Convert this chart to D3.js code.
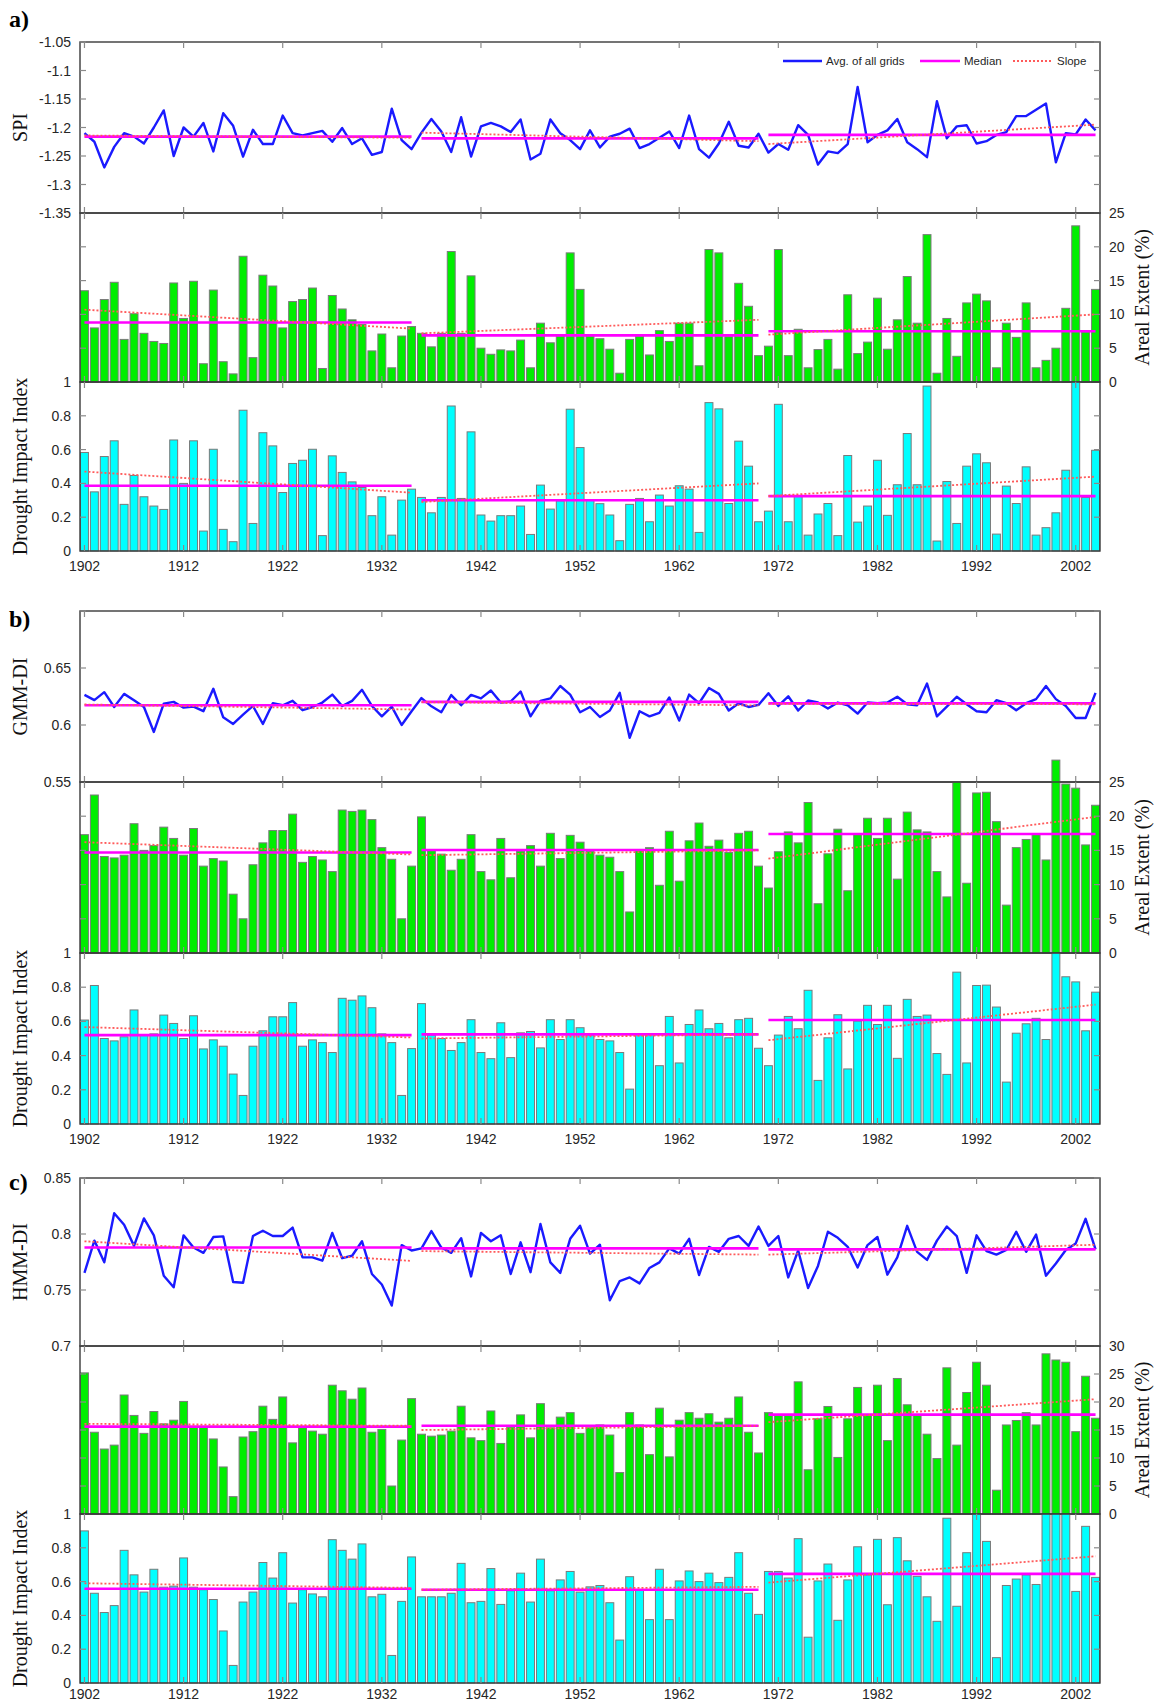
<!DOCTYPE html>
<html>
<head>
<meta charset="utf-8">
<script src="https://cdn.jsdelivr.net/npm/d3@7"></script>
<style>
  body { margin: 0; background: #fff; }
  svg { display: block; }
</style>
</head>
<body>
<svg id="chart" width="1157" height="1703"></svg>
<script>
// ---------- categories ----------
const years = d3.range(1902, 2005);
const yearTicks = [1902, 1912, 1922, 1932, 1942, 1952, 1962, 1972, 1982, 1992, 2002];
const periods = [[1902, 1935], [1936, 1970], [1971, 2004]];

// ---------- a) SPI ----------
const spiAvg = [
  -1.21, -1.225, -1.27, -1.234, -1.21, -1.216, -1.228, -1.20, -1.17, -1.25,
  -1.20, -1.216, -1.192, -1.242, -1.175, -1.197, -1.251, -1.204, -1.229, -1.229,
  -1.179, -1.21, -1.214, -1.21, -1.206, -1.225, -1.201, -1.229, -1.219, -1.248,
  -1.243, -1.167, -1.222, -1.238, -1.209, -1.185, -1.207, -1.243, -1.182, -1.251,
  -1.198, -1.192, -1.198, -1.208, -1.186, -1.256, -1.246, -1.186, -1.21, -1.222,
  -1.238, -1.205, -1.235, -1.216, -1.211, -1.202, -1.236, -1.229, -1.218, -1.207,
  -1.236, -1.179, -1.238, -1.253, -1.228, -1.19, -1.232, -1.235, -1.211, -1.244,
  -1.229, -1.239, -1.196, -1.213, -1.265, -1.242, -1.245, -1.229, -1.129, -1.226,
  -1.213, -1.205, -1.185, -1.226, -1.238, -1.252, -1.154, -1.219, -1.198, -1.196,
  -1.228, -1.224, -1.213, -1.208, -1.180, -1.180, -1.169, -1.158, -1.261, -1.21,
  -1.212, -1.186, -1.205
];
const spiMedian = [-1.216, -1.219, -1.213];
const spiSlope = [[-1.214, -1.218], [-1.209, -1.224], [-1.229, -1.195]];

const spiArea = [
  13.5, 8.0, 12.2, 14.75, 6.3, 10.1, 7.2, 6.0, 5.7, 14.65,
  9.4, 14.9, 2.7, 13.6, 3.0, 1.2, 18.6, 3.6, 15.8, 14.2,
  8.0, 11.9, 12.2, 13.9, 2.0, 12.8, 10.8, 9.2, 8.5, 4.6,
  7.1, 2.1, 6.8, 8.2, 7.2, 5.2, 7.2, 19.3, 7.2, 15.7,
  5.0, 4.1, 4.75, 4.6, 6.2, 2.1, 8.7, 5.8, 6.8, 19.1,
  13.7, 6.8, 6.4, 4.85, 1.3, 6.3, 6.8, 4.0, 7.6, 6.0,
  8.7, 8.7, 2.4, 19.6, 19.1, 6.7, 14.6, 11.2, 3.9, 5.3,
  19.6, 3.9, 7.8, 2.1, 4.8, 6.3, 1.9, 12.9, 4.2, 5.9,
  12.4, 4.85, 9.2, 15.6, 8.7, 21.8, 1.3, 9.4, 3.8, 11.7,
  13.0, 12.0, 2.1, 8.7, 6.6, 11.7, 2.1, 3.2, 5.0, 10.9,
  23.1, 7.4, 13.7
];
const spiAreaMedian = [8.8, 6.9, 7.5];
const spiAreaSlope = [[10.7, 7.9], [7.2, 9.2], [7.0, 10.0]];

const spiImpact = [
  0.583, 0.35, 0.559, 0.652, 0.276, 0.447, 0.321, 0.266, 0.246, 0.657,
  0.40, 0.652, 0.118, 0.602, 0.128, 0.055, 0.833, 0.163, 0.70, 0.622,
  0.346, 0.518, 0.537, 0.602, 0.091, 0.563, 0.465, 0.409, 0.376, 0.209,
  0.321, 0.094, 0.301, 0.366, 0.317, 0.226, 0.317, 0.858, 0.311, 0.705,
  0.213, 0.177, 0.209, 0.209, 0.266, 0.098, 0.39, 0.248, 0.297, 0.839,
  0.612, 0.30, 0.28, 0.213, 0.061, 0.276, 0.311, 0.173, 0.331, 0.266,
  0.386, 0.366, 0.110, 0.878, 0.841, 0.281, 0.65, 0.502, 0.173, 0.236,
  0.868, 0.173, 0.327, 0.094, 0.219, 0.281, 0.091, 0.565, 0.171, 0.266,
  0.537, 0.211, 0.392, 0.695, 0.392, 0.976, 0.059, 0.411, 0.163, 0.502,
  0.575, 0.522, 0.10, 0.384, 0.281, 0.498, 0.094, 0.138, 0.226, 0.478,
  1.0, 0.317, 0.596
];
const spiImpactMedian = [0.386, 0.30, 0.325];
const spiImpactSlope = [[0.47, 0.345], [0.29, 0.40], [0.325, 0.44]];

// ---------- b) GMM-DI ----------
const gmmAvg = [
  0.6264, 0.6218, 0.6288, 0.6158, 0.6273, 0.6218, 0.6158, 0.5939, 0.6188, 0.6203,
  0.6152, 0.6161, 0.6121, 0.6318, 0.6067, 0.6009, 0.6091, 0.6167, 0.6009, 0.6191,
  0.6173, 0.6212, 0.6130, 0.6158, 0.6197, 0.6267, 0.6167, 0.6212, 0.6309, 0.6167,
  0.6076, 0.6161, 0.6000, 0.6121, 0.6236, 0.6164, 0.6112, 0.6262, 0.6173, 0.6264,
  0.6233, 0.6303, 0.6197, 0.6206, 0.6294, 0.6076, 0.6212, 0.6233, 0.6342, 0.6267,
  0.6112, 0.6158, 0.6070, 0.6127, 0.6282, 0.5888, 0.6121, 0.6076, 0.6106, 0.6242,
  0.6039, 0.6267, 0.6191, 0.6324, 0.6273, 0.6127, 0.6191, 0.6158, 0.6176, 0.6279,
  0.6167, 0.6252, 0.6127, 0.6215, 0.6197, 0.6145, 0.6197, 0.6173, 0.6100, 0.6197,
  0.6191, 0.6197, 0.6248, 0.6182, 0.6173, 0.6364, 0.6076, 0.6161, 0.6248, 0.6182,
  0.6121, 0.6112, 0.6218, 0.6191, 0.6130, 0.6191, 0.6227, 0.6342, 0.6227, 0.6167,
  0.6061, 0.6061, 0.6282
];
const gmmMedian = [0.6173, 0.6203, 0.6190];
const gmmSlope = [[0.6180, 0.6136], [0.6200, 0.6172], [0.6186, 0.6182]];

const gmmArea = [
  17.3, 23.1, 14.1, 13.9, 14.3, 18.9, 15.0, 15.7, 18.4, 16.75,
  14.3, 18.2, 12.7, 13.8, 13.45, 8.6, 5.0, 12.9, 16.1, 17.9,
  17.9, 20.3, 13.25, 14.1, 13.6, 11.9, 20.9, 20.7, 20.9, 19.5,
  15.4, 13.7, 5.0, 12.7, 19.9, 15.0, 14.45, 12.1, 13.7, 17.3,
  11.9, 10.7, 16.75, 11.0, 14.9, 15.7, 12.7, 17.5, 13.8, 17.2,
  16.2, 14.85, 14.3, 14.0, 11.9, 6.0, 15.1, 15.4, 9.9, 17.8,
  10.5, 16.4, 19.0, 15.6, 16.5, 14.7, 17.5, 17.8, 12.7, 9.5,
  14.8, 17.7, 16.1, 22.0, 7.2, 14.5, 18.1, 9.1, 17.4, 19.7,
  16.75, 19.7, 10.8, 20.6, 18.0, 17.7, 11.9, 8.2, 25.0, 10.2,
  23.4, 23.5, 19.2, 7.0, 15.4, 16.6, 17.4, 13.6, 28.2, 24.7,
  24.1, 15.8, 21.6
];
const gmmAreaMedian = [14.7, 15.05, 17.4];
const gmmAreaSlope = [[16.2, 14.4], [14.3, 15.0], [13.8, 19.9]];

const gmmImpact = [
  0.608, 0.81, 0.50, 0.486, 0.51, 0.667, 0.52, 0.527, 0.637, 0.588,
  0.50, 0.633, 0.439, 0.492, 0.455, 0.292, 0.167, 0.455, 0.545, 0.627,
  0.627, 0.71, 0.455, 0.492, 0.476, 0.418, 0.735, 0.724, 0.749, 0.68,
  0.527, 0.476, 0.167, 0.441, 0.704, 0.52, 0.50, 0.43, 0.476, 0.61,
  0.418, 0.382, 0.592, 0.388, 0.533, 0.541, 0.445, 0.61, 0.494, 0.61,
  0.563, 0.52, 0.494, 0.486, 0.418, 0.204, 0.524, 0.524, 0.341, 0.629,
  0.357, 0.582, 0.667, 0.557, 0.588, 0.504, 0.61, 0.618, 0.443, 0.341,
  0.52, 0.629, 0.557, 0.782, 0.255, 0.504, 0.639, 0.322, 0.602, 0.694,
  0.582, 0.694, 0.384, 0.729, 0.629, 0.637, 0.412, 0.29, 0.888, 0.357,
  0.81, 0.812, 0.684, 0.245, 0.531, 0.586, 0.618, 0.494, 1.0, 0.861,
  0.831, 0.545, 0.771
];
const gmmImpactMedian = [0.52, 0.524, 0.608];
const gmmImpactSlope = [[0.567, 0.506], [0.50, 0.524], [0.49, 0.698]];

// ---------- c) HMM-DI ----------
const hmmAvg = [
  0.7653, 0.7941, 0.7747, 0.8186, 0.8083, 0.7894, 0.8139, 0.7988, 0.7628, 0.7524,
  0.7988, 0.7879, 0.7832, 0.7973, 0.7979, 0.7571, 0.7565, 0.7982, 0.8029, 0.7982,
  0.7982, 0.8057, 0.7791, 0.7791, 0.7762, 0.8010, 0.7784, 0.7806, 0.7935, 0.7643,
  0.7549, 0.7361, 0.7901, 0.7853, 0.7872, 0.8026, 0.7879, 0.7832, 0.7963, 0.7621,
  0.8010, 0.7935, 0.7988, 0.7643, 0.7926, 0.7659, 0.8089, 0.7747, 0.7653, 0.7957,
  0.8073, 0.7825, 0.7904, 0.7408, 0.7580, 0.7612, 0.7559, 0.7697, 0.7747, 0.7872,
  0.7825, 0.7957, 0.7634, 0.7885, 0.7841, 0.7957, 0.7982, 0.7894, 0.8067, 0.7894,
  0.7982, 0.7612, 0.7853, 0.7518, 0.7715, 0.8020, 0.7966, 0.7885, 0.7700, 0.7901,
  0.7973, 0.7637, 0.7791, 0.8073, 0.7841, 0.7769, 0.7941, 0.8067, 0.7982, 0.7653,
  0.7988, 0.7847, 0.7816, 0.7857, 0.8020, 0.7841, 0.7995, 0.7628, 0.7737, 0.7857,
  0.7916, 0.8136, 0.7863
];
const hmmMedian = [0.7879, 0.7872, 0.7863];
const hmmSlope = [[0.7935, 0.7760], [0.7847, 0.7816], [0.7816, 0.7904]];

const hmmArea = [
  25.2, 14.6, 11.6, 12.3, 21.25, 17.6, 14.4, 18.3, 16.1, 16.75,
  20.1, 15.5, 15.5, 13.4, 8.4, 3.1, 13.75, 14.7, 19.25, 16.9,
  20.9, 12.7, 15.4, 14.8, 14.25, 23.0, 22.0, 20.5, 22.5, 14.6,
  15.1, 5.0, 13.2, 20.6, 14.25, 13.9, 14.1, 14.8, 19.25, 13.6,
  13.1, 18.4, 12.6, 15.5, 17.7, 13.6, 19.7, 15.4, 17.3, 18.1,
  14.4, 15.4, 15.9, 14.1, 7.4, 18.1, 15.9, 10.6, 18.9, 10.2,
  16.75, 18.1, 17.1, 17.9, 16.4, 17.1, 20.9, 14.6, 10.9, 18.1,
  17.7, 17.7, 23.6, 7.9, 17.0, 19.2, 10.1, 17.0, 22.6, 17.6,
  23.0, 13.1, 24.2, 19.5, 17.6, 14.25, 9.9, 26.1, 12.3, 21.7,
  27.1, 23.0, 4.25, 15.9, 16.7, 18.1, 15.9, 28.6, 27.5, 27.1,
  14.7, 24.6, 17.1
];
const hmmAreaMedian = [15.6, 15.75, 17.75];
const hmmAreaSlope = [[16.1, 15.75], [15.0, 15.75], [16.4, 20.5]];

const hmmImpact = [
  0.90, 0.531, 0.417, 0.458, 0.785, 0.64, 0.538, 0.673, 0.567, 0.573,
  0.74, 0.567, 0.552, 0.494, 0.308, 0.104, 0.479, 0.538, 0.713, 0.621,
  0.771, 0.473, 0.552, 0.527, 0.51, 0.848, 0.785, 0.733, 0.823, 0.51,
  0.525, 0.163, 0.483, 0.746, 0.51, 0.51, 0.51, 0.531, 0.708, 0.475,
  0.483, 0.677, 0.465, 0.546, 0.65, 0.479, 0.733, 0.546, 0.61, 0.66,
  0.538, 0.569, 0.577, 0.475, 0.254, 0.629, 0.552, 0.375, 0.673, 0.375,
  0.604, 0.663, 0.60, 0.65, 0.594, 0.625, 0.771, 0.531, 0.406, 0.66,
  0.66, 0.621, 0.854, 0.271, 0.604, 0.704, 0.371, 0.61, 0.806, 0.64,
  0.85, 0.463, 0.86, 0.723, 0.631, 0.51, 0.365, 0.975, 0.454, 0.771,
  1.0, 0.838, 0.15, 0.577, 0.615, 0.64, 0.583, 1.0, 1.0, 1.0,
  0.542, 0.927, 0.625
];
const hmmImpactMedian = [0.558, 0.552, 0.646];
const hmmImpactSlope = [[0.59, 0.563], [0.552, 0.569], [0.594, 0.75]];

// ---------- axis ticks ----------
const spiTicks = [-1.35, -1.3, -1.25, -1.2, -1.15, -1.1, -1.05];
const gmmTicks = [0.55, 0.6, 0.65];
const gmmSideTicks = [0.55, 0.6, 0.65, 0.7];
const hmmTicks = [0.7, 0.75, 0.8, 0.85];
const areaTicks25 = [0, 5, 10, 15, 20, 25];
const areaTicks30 = [0, 5, 10, 15, 20, 25, 30];
const impactTicks = [0, 0.2, 0.4, 0.6, 0.8, 1];

const legendLabels = ["Avg. of all grids", "Median", "Slope"];

// ---------- styling ----------
const C = {
  blue: "#1a1aff", median: "#ff00ff", slope: "#ff5a5a",
  green: "#00ee00", cyan: "#00ffff", barEdge: "#7a7a7a",
  frame: "#3a3a3a", tick: "#8a8a8a", text: "#262626"
};
const SANS = "'Liberation Sans', Arial, sans-serif";
const SERIF = "'Liberation Serif', 'Times New Roman', serif";

const svg = d3.select("#chart");
const X0 = 80, X1 = 1100;
const x = d3.scaleLinear().domain([1901.55, 2004.45]).range([X0, X1]);
const step = x(1903) - x(1902);
const barW = step * 0.8;
const fmt = v => String(+v.toFixed(2));

const panels = [
  {
    tag: "a)", tagY: 27, tops: [42, 213, 382, 551], yearLabelY: 571, title: "SPI",
    line: { values: spiAvg, median: spiMedian, slope: spiSlope, domain: [-1.35, -1.05],
            labelTicks: spiTicks, sideTicks: spiTicks },
    area: { values: spiArea, median: spiAreaMedian, slope: spiAreaSlope, domain: [0, 25], ticks: areaTicks25 },
    impact: { values: spiImpact, median: spiImpactMedian, slope: spiImpactSlope },
    legend: true
  },
  {
    tag: "b)", tagY: 627, tops: [611, 782, 953, 1124], yearLabelY: 1144, title: "GMM-DI",
    line: { values: gmmAvg, median: gmmMedian, slope: gmmSlope, domain: [0.55, 0.7],
            labelTicks: gmmTicks, sideTicks: gmmSideTicks },
    area: { values: gmmArea, median: gmmAreaMedian, slope: gmmAreaSlope, domain: [0, 25], ticks: areaTicks25 },
    impact: { values: gmmImpact, median: gmmImpactMedian, slope: gmmImpactSlope },
    legend: false
  },
  {
    tag: "c)", tagY: 1190, tops: [1178, 1346, 1514, 1683], yearLabelY: 1699, title: "HMM-DI",
    line: { values: hmmAvg, median: hmmMedian, slope: hmmSlope, domain: [0.7, 0.85],
            labelTicks: hmmTicks, sideTicks: hmmTicks },
    area: { values: hmmArea, median: hmmAreaMedian, slope: hmmAreaSlope, domain: [0, 30], ticks: areaTicks30 },
    impact: { values: hmmImpact, median: hmmImpactMedian, slope: hmmImpactSlope },
    legend: false
  }
];

function segmentLines(g, y, median, slope) {
  periods.forEach((p, i) => {
    g.append("line")
      .attr("x1", x(p[0])).attr("x2", x(p[1]))
      .attr("y1", y(median[i])).attr("y2", y(median[i]))
      .attr("stroke", C.median).attr("stroke-width", 2.6);
    g.append("line")
      .attr("x1", x(p[0])).attr("x2", x(p[1]))
      .attr("y1", y(slope[i][0])).attr("y2", y(slope[i][1]))
      .attr("stroke", C.slope).attr("stroke-width", 1.8)
      .attr("stroke-dasharray", "2,2");
  });
}

function frame(g, yTop, yBot) {
  g.append("rect").attr("x", X0).attr("y", yTop)
    .attr("width", X1 - X0).attr("height", yBot - yTop)
    .attr("fill", "none").attr("stroke", C.frame).attr("stroke-width", 1.4);
  // decade ticks on top and bottom edges, pointing inward
  yearTicks.forEach(t => {
    g.append("line").attr("x1", x(t)).attr("x2", x(t))
      .attr("y1", yTop).attr("y2", yTop + 6)
      .attr("stroke", C.tick).attr("stroke-width", 1.2);
    g.append("line").attr("x1", x(t)).attr("x2", x(t))
      .attr("y1", yBot).attr("y2", yBot - 6)
      .attr("stroke", C.tick).attr("stroke-width", 1.2);
  });
}

function sideTicks(g, y, ticks) {
  ticks.forEach(t => {
    g.append("line").attr("x1", X0).attr("x2", X0 + 6)
      .attr("y1", y(t)).attr("y2", y(t)).attr("stroke", C.tick).attr("stroke-width", 1.2);
    g.append("line").attr("x1", X1).attr("x2", X1 - 6)
      .attr("y1", y(t)).attr("y2", y(t)).attr("stroke", C.tick).attr("stroke-width", 1.2);
  });
}

function bars(g, y, values, fill) {
  g.selectAll(null).data(years).enter().append("rect")
    .attr("x", d => x(d) - barW / 2)
    .attr("width", barW)
    .attr("y", (d, i) => y(values[i]))
    .attr("height", (d, i) => y(0) - y(values[i]))
    .attr("fill", fill)
    .attr("stroke", C.barEdge).attr("stroke-width", 1);
}

panels.forEach((p, pi) => {
  const g = svg.append("g");
  const [t0, t1, t2, t3] = p.tops;

  // panel tag
  g.append("text").attr("x", 9).attr("y", p.tagY)
    .attr("font-family", SERIF).attr("font-weight", "bold").attr("font-size", 24)
    .attr("fill", "#000").text(p.tag);

  // ----- index line subplot -----
  const yL = d3.scaleLinear().domain(p.line.domain).range([t1, t0]);
  const clipId = "clip" + pi;
  svg.append("clipPath").attr("id", clipId).append("rect")
    .attr("x", X0).attr("y", t0).attr("width", X1 - X0).attr("height", t1 - t0);
  const lg = g.append("g").attr("clip-path", `url(#${clipId})`);
  lg.append("path")
    .datum(years)
    .attr("fill", "none").attr("stroke", C.blue).attr("stroke-width", 2.4)
    .attr("stroke-linejoin", "round")
    .attr("d", d3.line().x(d => x(d)).y((d, i) => yL(p.line.values[i])));
  segmentLines(lg, yL, p.line.median, p.line.slope);
  frame(g, t0, t1);
  sideTicks(g, yL, p.line.sideTicks);
  p.line.labelTicks.forEach(t => {
    g.append("text").attr("x", X0 - 9).attr("y", yL(t) + 5)
      .attr("text-anchor", "end").attr("font-family", SANS).attr("font-size", 14)
      .attr("fill", C.text).text(fmt(t));
  });
  g.append("text")
    .attr("transform", `translate(27,${(t0 + t1) / 2}) rotate(-90)`)
    .attr("text-anchor", "middle").attr("font-family", SERIF).attr("font-size", 20)
    .attr("fill", "#111").text(p.title);

  // ----- areal extent bars -----
  const yA = d3.scaleLinear().domain(p.area.domain).range([t2, t1]);
  bars(g, yA, p.area.values, C.green);
  segmentLines(g, yA, p.area.median, p.area.slope);
  frame(g, t1, t2);
  sideTicks(g, yA, p.area.ticks.slice(1, -1));
  p.area.ticks.forEach(t => {
    g.append("text").attr("x", X1 + 9).attr("y", yA(t) + 5)
      .attr("text-anchor", "start").attr("font-family", SANS).attr("font-size", 14)
      .attr("fill", C.text).text(fmt(t));
  });
  g.append("text")
    .attr("transform", `translate(1149,${(t1 + t2) / 2}) rotate(-90)`)
    .attr("text-anchor", "middle").attr("font-family", SERIF).attr("font-size", 20)
    .attr("fill", "#111").text("Areal Extent (%)");

  // ----- drought impact index bars -----
  const yI = d3.scaleLinear().domain([0, 1]).range([t3, t2]);
  const clipI = "clipI" + pi;
  svg.append("clipPath").attr("id", clipI).append("rect")
    .attr("x", X0 - 2).attr("y", t2).attr("width", X1 - X0 + 4).attr("height", t3 - t2 + 2);
  const ig = g.append("g").attr("clip-path", `url(#${clipI})`);
  bars(ig, yI, p.impact.values, C.cyan);
  segmentLines(g, yI, p.impact.median, p.impact.slope);
  frame(g, t2, t3);
  sideTicks(g, yI, impactTicks.slice(1, -1));
  impactTicks.forEach(t => {
    g.append("text").attr("x", X0 - 9).attr("y", yI(t) + 5)
      .attr("text-anchor", "end").attr("font-family", SANS).attr("font-size", 14)
      .attr("fill", C.text).text(fmt(t));
  });
  g.append("text")
    .attr("transform", `translate(27,${(t2 + t3) / 2}) rotate(-90)`)
    .attr("text-anchor", "middle").attr("font-family", SERIF).attr("font-size", 20)
    .attr("fill", "#111").text("Drought Impact Index");

  // year labels
  yearTicks.forEach(t => {
    g.append("text").attr("x", x(t)).attr("y", p.yearLabelY)
      .attr("text-anchor", "middle").attr("font-family", SANS).attr("font-size", 14)
      .attr("fill", C.text).text(t);
  });

  // legend
  if (p.legend) {
    const ly = t0 + 19;
    const items = [
      { x: 783, w: 39, color: C.blue, dash: null, sw: 2.4 },
      { x: 920, w: 40, color: C.median, dash: null, sw: 2.6 },
      { x: 1013, w: 40, color: C.slope, dash: "2,2", sw: 1.8 }
    ];
    items.forEach((it, k) => {
      g.append("line").attr("x1", it.x).attr("x2", it.x + it.w)
        .attr("y1", ly).attr("y2", ly)
        .attr("stroke", it.color).attr("stroke-width", it.sw)
        .attr("stroke-dasharray", it.dash);
      g.append("text").attr("x", it.x + it.w + 4).attr("y", ly + 4)
        .attr("font-family", SANS).attr("font-size", 11.5).attr("fill", C.text)
        .text(legendLabels[k]);
    });
  }
});
</script>
</body>
</html>
